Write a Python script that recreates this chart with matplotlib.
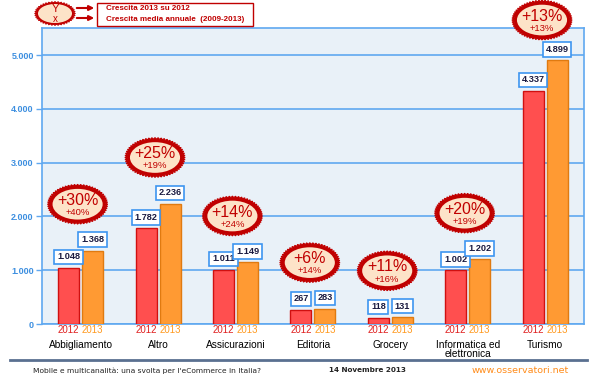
import numpy as np
import matplotlib
matplotlib.use("Agg")
import matplotlib.pyplot as plt
from matplotlib.patches import Polygon, Ellipse, Rectangle, FancyArrowPatch

plt.rcParams['font.family'] = ['Liberation Sans', 'DejaVu Sans']

cats = ['Abbigliamento', 'Altro', 'Assicurazioni', 'Editoria', 'Grocery',
        'Informatica ed\nelettronica', 'Turismo']
v2012 = [1048, 1782, 1011, 267, 118, 1002, 4337]
v2013 = [1368, 2236, 1149, 283, 131, 1202, 4899]
cresc = [30, 25, 14, 6, 11, 20, 13]
cagr = [40, 19, 24, 14, 16, 19, 13]

RED = '#FF4F4F'
RED_E = '#D01010'
ORA = '#FF9A33'
ORA_E = '#E07A10'
BLUE = '#5FA8F0'
DARKRED = '#C00000'
PEACH = '#FDE3C8'


def fmt(v):
    return f"{v:,}".replace(",", ".")


def bubble(ax, xc, yc, w, h, big, small, fs_big=11.5, fs_small=6.8):
    # ellisse "a timbro" con bordo seghettato
    t = np.linspace(0, 2 * np.pi, 121)
    r = np.where(np.arange(len(t)) % 2 == 0, 1.0, 0.92)
    xs = xc + w / 2 * r * np.cos(t)
    ys = yc + h / 2 * r * np.sin(t)
    ax.add_patch(Polygon(np.c_[xs, ys], closed=True, fc=DARKRED, ec=DARKRED,
                         lw=0.8, clip_on=False, zorder=5))
    ax.add_patch(Ellipse((xc, yc), w * 0.83, h * 0.77, fc=PEACH, ec='none',
                         clip_on=False, zorder=6))
    ax.text(xc, yc + h * 0.1, big, ha='center', va='center', color=DARKRED,
            fontsize=fs_big, zorder=7, clip_on=False)
    ax.text(xc, yc - h * 0.21, small, ha='center', va='center', color=DARKRED,
            fontsize=fs_small, zorder=7, clip_on=False)


fig = plt.figure(figsize=(6, 3.8), dpi=100)
fig.patch.set_facecolor('white')
ax = fig.add_axes([0.07, 0.147, 0.903, 0.779])
ax.set_facecolor('#E9F1F8')

x = np.arange(len(cats))
off = 0.155
bw = 0.27
ax.bar(x - off, v2012, bw, color=RED, edgecolor=RED_E, lw=1, zorder=3)
ax.bar(x + off, v2013, bw, color=ORA, edgecolor=ORA_E, lw=1, zorder=3)

ax.set_xlim(-0.5, len(cats) - 0.5)
ax.set_ylim(0, 5500)
ax.set_yticks([0, 1000, 2000, 3000, 4000, 5000])
ax.set_yticklabels([fmt(v) for v in [0, 1000, 2000, 3000, 4000, 5000]],
                   color='#3D8FE0', fontsize=6.5, fontweight='bold')
ax.yaxis.grid(True, color=BLUE, lw=1.2, zorder=0)
ax.set_axisbelow(True)
ax.tick_params(axis='y', color=BLUE, length=4, width=1, pad=2)
ax.set_xticks([])
for s in ax.spines.values():
    s.set_color(BLUE)
    s.set_linewidth(1.2)

box = dict(boxstyle='square,pad=0.3', fc='white', ec='#3D95F0', lw=1.2)
for i in range(len(cats)):
    ax.text(x[i] - off, v2012[i] + 120, fmt(v2012[i]), ha='center', va='bottom',
            fontsize=6.6, fontweight='bold', color='#1A1A40', bbox=box, zorder=4)
    ax.text(x[i] + off, v2013[i] + 120, fmt(v2013[i]), ha='center', va='bottom',
            fontsize=6.6, fontweight='bold', color='#1A1A40', bbox=box, zorder=4)
    ax.text(x[i] - off, -110, '2012', ha='center', va='center', fontsize=7,
            color='#E02020', clip_on=False)
    ax.text(x[i] + off, -110, '2013', ha='center', va='center', fontsize=7,
            color='#FF9A20', clip_on=False)
    ax.text(x[i], -290, cats[i], ha='center', va='top', fontsize=7.3,
            color='black', clip_on=False, linespacing=0.95)
    top = max(v2012[i], v2013[i])
    yb = min(top + 860, 5650)
    bubble(ax, x[i] - 0.04, yb, 0.78, 740, f"+{cresc[i]}%", f"+{cagr[i]}%")

# legenda in alto a sinistra
lax = fig.add_axes([0, 0, 1, 1], facecolor='none')
lax.set_xlim(0, 600)
lax.set_ylim(380, 0)
lax.axis('off')
t = np.linspace(0, 2 * np.pi, 81)
r = np.where(np.arange(len(t)) % 2 == 0, 1.0, 0.9)
lax.add_patch(Polygon(np.c_[55 + 20.5 * r * np.cos(t), 13.5 + 12 * r * np.sin(t)],
                      closed=True, fc=DARKRED, ec=DARKRED, lw=0.6))
lax.add_patch(Ellipse((55, 13.5), 34, 19, fc=PEACH, ec='none'))
lax.text(55, 8.5, 'Y', ha='center', va='center', color=DARKRED, fontsize=8)
lax.text(55, 18.5, 'x', ha='center', va='center', color=DARKRED, fontsize=7)
for yy in (8, 18):
    lax.add_patch(FancyArrowPatch((74, yy), (97, yy), arrowstyle='-|>',
                                  mutation_scale=7, color=DARKRED, lw=1.5))
lax.add_patch(Rectangle((97, 3), 156, 23, fc='white', ec=DARKRED, lw=1))
lax.text(106, 8.5, 'Crescita 2013 su 2012', va='center', color=DARKRED,
         fontsize=5.8, fontweight='bold')
lax.text(106, 19.5, 'Crescita media annuale  (2009-2013)', va='center',
         color=DARKRED, fontsize=5.8, fontweight='bold')

# piè di pagina
lax.plot([10, 587], [360, 360], color='#5A7090', lw=2)
lax.text(33, 370.5, "Mobile e multicanalità: una svolta per l'eCommerce in Italia?",
         va='center', fontsize=5.4, color='#222222', family='DejaVu Sans')
lax.text(329, 370.5, '14 Novembre 2013', va='center', fontsize=5.2,
         color='#222222', fontweight='bold', family='DejaVu Sans')
lax.text(520, 370.5, 'www.osservatori.net', ha='center', va='center',
         fontsize=6.8, color='#FF8C1A', family='DejaVu Sans')

fig.savefig('out.png', dpi=100)
